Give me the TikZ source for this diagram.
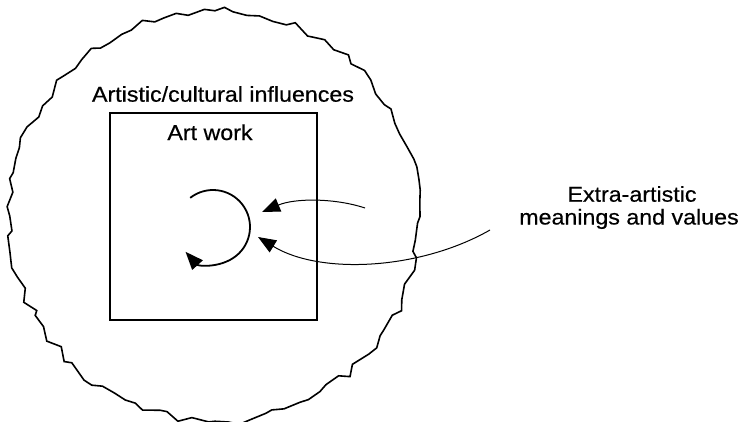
\documentclass[tikz,border=0pt]{standalone}
\usepackage{fontspec}
\setmainfont{Liberation Sans}[FakeStretch=1.08,FakeBold=0.5]
\usetikzlibrary{arrows.meta,decorations.pathmorphing,calc}
\begin{document}
\begin{tikzpicture}[x=1pt,y=1pt,
  lbl/.style={font=\fontsize{21.5}{24}\selectfont, anchor=base, inner sep=0pt},
  tip/.style={-{Triangle[length=18pt,width=14pt]}},
  conn/.style={line width=1pt, tip},
  wavy/.style={line width=1.6pt, line join=miter, decorate, decoration={random steps, segment length=12pt, amplitude=4.5pt}},
  frame/.style={draw, line width=1.6pt}]
\useasboundingbox (0,0) rectangle (742,-421);
\pgfmathsetseed{11}
\draw[wavy] (215,-216) circle[radius=205];
\node[frame, minimum width=207pt, minimum height=207pt, inner sep=0pt] (work) at (213.5,-216.5) {};
\node[lbl] (infl) at (223,-101.7) {Artistic/cultural influences};
\node[lbl] (artwork) at (210,-140) {Art work};
\node[lbl] (extra1) at (632,-201.7) {Extra-artistic};
\node[lbl] (extra2) at (629,-224.5) {meanings and values};
\coordinate (loopc) at (213,-227);
\draw[line width=1.8pt, tip] ($(loopc)+(128:37)$) arc[start angle=128, end angle=-138, radius=37] coordinate (loopend);
\coordinate (s1) at (365,-208);
\coordinate (t1) at (262,-212);
\coordinate (s2) at (490,-230);
\coordinate (t2) at (258,-237);
\draw[conn] (s1) .. controls (335,-198) and (295,-198) .. (t1);
\draw[conn] (s2) .. controls (420,-270) and (320,-275) .. (t2);
\end{tikzpicture}
\end{document}
